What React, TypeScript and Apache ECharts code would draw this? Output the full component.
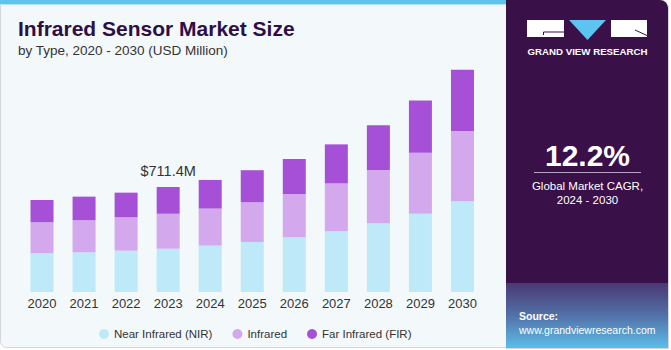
import React, { useEffect, useRef } from "react";
import * as echarts from "echarts";

const years = ["2020", "2021", "2022", "2023", "2024", "2025", "2026", "2027", "2028", "2029", "2030"];
const nir = [262, 269, 280, 293, 314, 339, 371, 411, 465, 530, 614];
const infrared = [210, 217, 226, 237, 251, 269, 293, 325, 361, 413, 476];
const fir = [151, 160, 167, 181.4, 194, 217, 237, 264, 303, 355, 416];
const seriesNames = ["Near Infrared (NIR)", "Infrared", "Far Infrared (FIR)"];
const labelIndex = 3;
const cagrText = "12.2%";

const FONT = "'Liberation Sans', Arial, sans-serif";

export default function App() {
  const ref = useRef<HTMLDivElement>(null);
  useEffect(() => {
    if (!ref.current) return;
    const chart = echarts.init(ref.current, null, { renderer: "svg" });
    const total = (i: number) => nir[i] + infrared[i] + fir[i];
    const firData = fir.map((v, i) =>
      i === labelIndex
        ? {
            value: v,
            label: {
              show: true,
              position: "top",
              distance: 8,
              formatter: () => "$" + total(i).toFixed(1) + "M",
              fontSize: 14.5,
              color: "#333",
              fontFamily: FONT,
            },
          }
        : v
    );
    const dark = "#3a1049";
    chart.setOption({
      animation: false,
      backgroundColor: "#ffffff",
      textStyle: { fontFamily: FONT },
      grid: { left: 21, right: 187.5, top: 55.8, bottom: 58 },
      xAxis: {
        type: "category",
        data: years,
        axisLine: { show: false },
        axisTick: { show: false },
        axisLabel: { color: "#333", fontSize: 13, margin: 5, fontFamily: FONT },
      },
      yAxis: { type: "value", min: 0, max: 1600, show: false, splitLine: { show: false } },
      legend: {
        data: seriesNames,
        left: 94,
        top: 323,
        icon: "circle",
        itemWidth: 10,
        itemHeight: 10,
        itemGap: 20,
        textStyle: { fontSize: 11.5, color: "#333", fontFamily: FONT },
      },
      series: [
        { name: seriesNames[0], type: "bar", stack: "t", barWidth: 23, data: nir, itemStyle: { color: "#bde9f8" } },
        { name: seriesNames[1], type: "bar", stack: "t", barWidth: 23, data: infrared, itemStyle: { color: "#d4a8ec" } },
        { name: seriesNames[2], type: "bar", stack: "t", barWidth: 23, data: firData, itemStyle: { color: "#a550d6" } },
      ],
      graphic: [
        {
          type: "group",
          z: -10,
          silent: true,
          children: [
            { type: "rect", shape: { x: 0.5, y: 0.5, width: 510, height: 347, r: [0, 0, 0, 6] }, style: { fill: "#f3f8fb", stroke: "#d3d7da", lineWidth: 1 } },
            { type: "rect", shape: { x: 0, y: 0, width: 508, height: 4 }, style: { fill: "#5ec4ef" } },
            { type: "rect", shape: { x: 0, y: 4, width: 508, height: 1 }, style: { fill: "#b5e3f6" } },
            { type: "rect", shape: { x: 506, y: 0, width: 162, height: 348, r: [0, 8, 0, 0] }, style: { fill: dark } },
            {
              type: "rect",
              shape: { x: 506, y: 283, width: 162, height: 65 },
              style: {
                fill: new echarts.graphic.LinearGradient(0, 0, 0, 1, [
                  { offset: 0, color: "#4a3874" },
                  { offset: 0.5, color: "#5271a8" },
                  { offset: 1, color: "#5cbde9" },
                ]),
              },
            },
            { type: "line", shape: { x1: 668.5, y1: 6, x2: 668.5, y2: 348 }, style: { stroke: "#d3d7da", lineWidth: 1 } },
            { type: "line", shape: { x1: 506, y1: 348.5, x2: 669, y2: 348.5 }, style: { stroke: "#d3d7da", lineWidth: 1 } },
          ],
        },
        {
          type: "group",
          silent: true,
          children: [
            { type: "text", x: 18, y: 28, style: { text: "Infrared Sensor Market Size", fontSize: 21, fontWeight: "bold", fill: "#2e0f45", fontFamily: FONT, verticalAlign: "middle" } },
            { type: "text", x: 18, y: 50, style: { text: "by Type, 2020 - 2030 (USD Million)", fontSize: 13.5, fill: "#333", fontFamily: FONT, verticalAlign: "middle" } },
            // logo
            { type: "rect", shape: { x: 527, y: 20, width: 37, height: 17 }, style: { fill: "#ffffff" } },
            { type: "polyline", shape: { points: [[543.5, 35], [543.5, 32], [564, 32]] }, style: { stroke: dark, lineWidth: 1, fill: null } },
            { type: "polygon", shape: { points: [[569, 20], [606, 20], [587.5, 40]] }, style: { fill: "#5bc4f0" } },
            { type: "rect", shape: { x: 611, y: 20, width: 36, height: 17 }, style: { fill: "#ffffff" } },
            { type: "line", shape: { x1: 635, y1: 30, x2: 647, y2: 35.5 }, style: { stroke: dark, lineWidth: 1 } },
            { type: "text", x: 587.5, y: 51, style: { text: "GRAND VIEW RESEARCH", fontSize: 9.7, fontWeight: "bold", fill: "#ffffff", fontFamily: FONT, align: "center", verticalAlign: "middle" } },
            // CAGR
            { type: "text", x: 587.5, y: 155, style: { text: cagrText, fontSize: 30, fontWeight: "bold", fill: "#ffffff", fontFamily: FONT, align: "center", verticalAlign: "middle" } },
            { type: "line", shape: { x1: 534, y1: 172.5, x2: 641, y2: 172.5 }, style: { stroke: "#b7a3c2", lineWidth: 1 } },
            { type: "text", x: 587.5, y: 186, style: { text: "Global Market CAGR,", fontSize: 11.5, fill: "#ffffff", fontFamily: FONT, align: "center", verticalAlign: "middle" } },
            { type: "text", x: 587.5, y: 200, style: { text: "2024 - 2030", fontSize: 11.5, fill: "#ffffff", fontFamily: FONT, align: "center", verticalAlign: "middle" } },
            // source
            { type: "text", x: 519, y: 316, style: { text: "Source:", fontSize: 10.5, fontWeight: "bold", fill: "#ffffff", fontFamily: FONT, verticalAlign: "middle" } },
            { type: "text", x: 519, y: 329.5, style: { text: "www.grandviewresearch.com", fontSize: 10.5, fill: "#ffffff", fontFamily: FONT, verticalAlign: "middle" } },
          ],
        },
      ],
    });
    return () => chart.dispose();
  }, []);
  return <div ref={ref} style={{ position: "fixed", left: 0, top: 0, width: 671, height: 350 }} />;
}
